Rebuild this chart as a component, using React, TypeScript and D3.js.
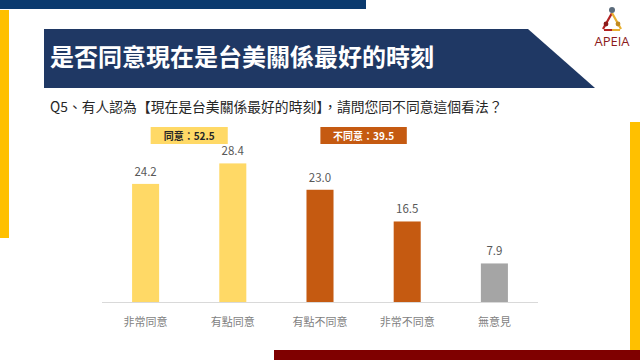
import React from 'react';
import * as d3 from 'd3';

const categories = ['非常同意', '有點同意', '有點不同意', '非常不同意', '無意見'];
const values = [24.2, 28.4, 23.0, 16.5, 7.9];
const barColors = ['#FFD966', '#FFD966', '#C55A11', '#C55A11', '#A5A5A5'];

const groupLabels = ['同意：52.5', '不同意：39.5'];
const groupSpans = [[0, 1], [2, 3]];
const groupFills = ['#FFD966', '#C55A11'];
const groupText = ['#262626', '#FFFFFF'];

const title = '是否同意現在是台美關係最好的時刻';
const question = 'Q5、有人認為【現在是台美關係最好的時刻】，請問您同不同意這個看法？';

const W = 640;
const H = 360;
const FONT = '"Noto Sans CJK TC", "Noto Sans", sans-serif';

const App: React.FC = () => {
  const baseline = 302;
  const x = d3.scaleBand<string>()
    .domain(categories)
    .range([102, 538])
    .paddingInner(0.69)
    .paddingOuter(0.345);
  const y = d3.scaleLinear()
    .domain([0, 30])
    .range([baseline, baseline - 30 * 4.88]);
  const center = (c: string) => (x(c) || 0) + x.bandwidth() / 2;

  return (
    <svg
      width={W}
      height={H}
      viewBox={`0 0 ${W} ${H}`}
      style={{ position: 'absolute', left: 0, top: 0, background: '#fff', fontFamily: FONT }}
    >
      {/* frame decorations */}
      <rect x={0} y={0} width={366} height={9} fill="#0B3A6E" />
      <rect x={0} y={10} width={9} height={228} fill="#FFC000" />
      <rect x={630} y={122} width={10} height={228} fill="#FFC000" />
      <rect x={274} y={350} width={366} height={10} fill="#7F0000" />

      {/* title banner */}
      <path d="M44,29 L528,29 L595,88 L44,88 Z" fill="#1F3864" />
      <text x={50} y={66} fill="#fff" fontSize={24} fontWeight={700}>{title}</text>

      {/* logo */}
      <g>
        <path d="M612,13 L603,29" stroke="#B22222" strokeWidth={2.2} />
        <path d="M612,13 L621,29" stroke="#E8B030" strokeWidth={2.2} />
        <path d="M604,30 L612,30" stroke="#B22222" strokeWidth={2} />
        <path d="M612,30 L620,30" stroke="#E8B030" strokeWidth={2} />
        <circle cx={612} cy={10} r={3} fill="#5B6B7B" />
        <circle cx={606} cy={24} r={2.4} fill="#8B1A1A" />
        <circle cx={618} cy={24} r={2.4} fill="#C08A20" />
        <text x={612} y={46} textAnchor="middle" fontSize={13} fill="#8B1A1A"
          fontFamily='"Liberation Sans Narrow", "Open Sans", sans-serif'>APEIA</text>
      </g>

      {/* question */}
      <text x={50} y={112} fontSize={13.8} fill="#262626">{question}</text>

      {/* group labels */}
      {groupLabels.map((lab, i) => {
        const [a, b] = groupSpans[i];
        const cx = (center(categories[a]) + center(categories[b])) / 2;
        const w = lab.length * 9.3 + 12;
        return (
          <g key={lab}>
            <rect x={cx - w / 2} y={127} width={w} height={17} fill={groupFills[i]} />
            <text x={cx} y={139.5} textAnchor="middle" fontSize={10} fontWeight={700}
              fill={groupText[i]}>{lab}</text>
          </g>
        );
      })}

      {/* axis line */}
      <line x1={102} x2={538} y1={baseline + 0.5} y2={baseline + 0.5} stroke="#D9D9D9" />

      {/* bars */}
      {categories.map((c, i) => (
        <g key={c}>
          <rect
            x={x(c)}
            y={y(values[i])}
            width={x.bandwidth()}
            height={baseline - y(values[i])}
            fill={barColors[i]}
          />
          <text x={center(c)} y={y(values[i]) - 8} textAnchor="middle" fontSize={11.5}
            fill="#595959">{values[i].toFixed(1)}</text>
          <text x={center(c)} y={326} textAnchor="middle" fontSize={11}
            fill="#7F7F7F">{c}</text>
        </g>
      ))}
    </svg>
  );
};

export default App;
